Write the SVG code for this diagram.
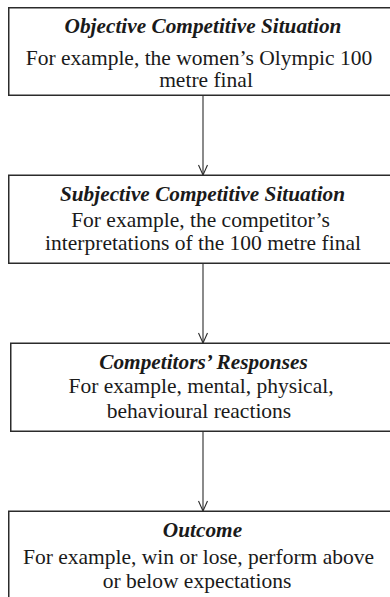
<svg xmlns="http://www.w3.org/2000/svg" width="390" height="597" viewBox="0 0 390 597">
  <style>
    .box { fill: #ffffff; stroke: #2b2b2b; stroke-width: 1.5; }
    .link { fill: none; stroke: #2b2b2b; stroke-width: 1.1; }
    .lbl { font-size: 21.5px; fill: #1a1a1a; text-anchor: middle; }
    .title { font-size: 21.3px; font-weight: bold; font-style: italic; }
  </style>
  <defs>
    <!-- open V arrowhead, drawn along +x so orient="auto" points it down the line -->
    <marker id="arrow" viewBox="0 0 12 10" refX="11" refY="5" markerWidth="12" markerHeight="10" markerUnits="userSpaceOnUse" orient="auto">
      <path d="M1,0.5 L11,5 L1,9.5" fill="none" stroke="#2b2b2b" stroke-width="1.1"/>
    </marker>
  </defs>
  <rect width="390" height="597" fill="#ffffff"/>

  <g id="connectors">
    <line class="link" x1="203" y1="95" x2="203" y2="175" marker-end="url(#arrow)"/>
    <line class="link" x1="203" y1="263" x2="203" y2="343" marker-end="url(#arrow)"/>
    <line class="link" x1="203" y1="431" x2="203" y2="511" marker-end="url(#arrow)"/>
  </g>

  <g font-family="Liberation Serif, Times New Roman, serif">
    <g id="objective">
      <rect class="box" x="8.75" y="7.75" width="390" height="87.5"/>
      <text class="lbl title" x="203" y="33">Objective Competitive Situation</text>
      <text class="lbl" x="199" y="64.5">For example, the women’s Olympic 100</text>
      <text class="lbl" x="206" y="87">metre final</text>
    </g>

    <g id="subjective">
      <rect class="box" x="8.75" y="175.25" width="390" height="88"/>
      <text class="lbl title" x="202.5" y="200.5">Subjective Competitive Situation</text>
      <text class="lbl" x="200.5" y="226.5">For example, the competitor’s</text>
      <text class="lbl" x="203" y="250">interpretations of the 100 metre final</text>
    </g>

    <g id="responses">
      <rect class="box" x="10.75" y="343.25" width="390" height="88"/>
      <text class="lbl title" x="203.5" y="369">Competitors’ Responses</text>
      <text class="lbl" x="201" y="393">For example, mental, physical,</text>
      <text class="lbl" x="199" y="418">behavioural reactions</text>
    </g>

    <g id="outcome">
      <rect class="box" x="8.75" y="511.25" width="390" height="100"/>
      <text class="lbl title" x="202.5" y="537">Outcome</text>
      <text class="lbl" x="198.5" y="564">For example, win or lose, perform above</text>
      <text class="lbl" x="197" y="588">or below expectations</text>
    </g>
  </g>
</svg>
